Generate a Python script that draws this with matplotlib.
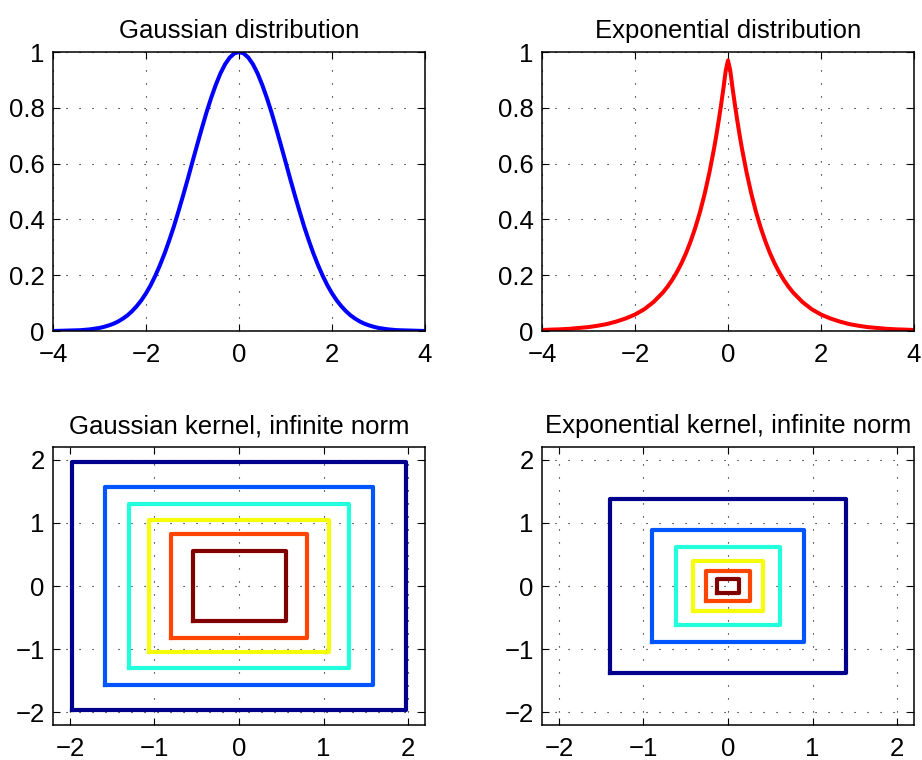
import numpy as np
import matplotlib
matplotlib.use("Agg")
import matplotlib.pyplot as plt

plt.rcParams['font.family'] = ['Liberation Sans', 'DejaVu Sans']
plt.rcParams['axes.unicode_minus'] = True

# Gaussian distribution curve samples
gauss_x = [-4.0, -3.8, -3.6, -3.4, -3.2, -3.0, -2.9, -2.8, -2.7, -2.6, -2.5,
           -2.4, -2.3, -2.2, -2.1, -2.0, -1.9, -1.8, -1.7, -1.6, -1.5, -1.4,
           -1.3, -1.2, -1.1, -1.0, -0.9, -0.8, -0.7, -0.6, -0.5, -0.4, -0.3,
           -0.2, -0.1, 0.0, 0.1, 0.2, 0.3, 0.4, 0.5, 0.6, 0.7, 0.8, 0.9, 1.0,
           1.1, 1.2, 1.3, 1.4, 1.5, 1.6, 1.7, 1.8, 1.9, 2.0, 2.1, 2.2, 2.3,
           2.4, 2.5, 2.6, 2.7, 2.8, 2.9, 3.0, 3.2, 3.4, 3.6, 3.8, 4.0]
gauss_y = [0.000, 0.001, 0.002, 0.003, 0.006, 0.011, 0.015, 0.020, 0.026, 0.034,
           0.044, 0.056, 0.071, 0.089, 0.110, 0.135, 0.164, 0.198, 0.236, 0.278,
           0.325, 0.375, 0.430, 0.487, 0.546, 0.607, 0.667, 0.726, 0.783, 0.835,
           0.882, 0.923, 0.956, 0.980, 0.995, 1.000, 0.995, 0.980, 0.956, 0.923,
           0.882, 0.835, 0.783, 0.726, 0.667, 0.607, 0.546, 0.487, 0.430, 0.375,
           0.325, 0.278, 0.236, 0.198, 0.164, 0.135, 0.110, 0.089, 0.071, 0.056,
           0.044, 0.034, 0.026, 0.020, 0.015, 0.011, 0.006, 0.003, 0.002, 0.001,
           0.000]

# Exponential (Laplace) distribution curve samples
expo_x = [-4.0, -3.8, -3.6, -3.4, -3.2, -3.0, -2.8, -2.6, -2.4, -2.2, -2.0,
          -1.8, -1.6, -1.4, -1.3, -1.2, -1.1, -1.0, -0.9, -0.8, -0.7, -0.6,
          -0.5, -0.4, -0.3, -0.25, -0.2, -0.15, -0.1, -0.05, 0.0, 0.05, 0.1,
          0.15, 0.2, 0.25, 0.3, 0.4, 0.5, 0.6, 0.7, 0.8, 0.9, 1.0, 1.1, 1.2,
          1.3, 1.4, 1.6, 1.8, 2.0, 2.2, 2.4, 2.6, 2.8, 3.0, 3.2, 3.4, 3.6,
          3.8, 4.0]
expo_y = [0.0035, 0.005, 0.006, 0.008, 0.011, 0.014, 0.019, 0.025, 0.034, 0.045,
          0.059, 0.078, 0.104, 0.138, 0.159, 0.183, 0.211, 0.243, 0.280, 0.323,
          0.372, 0.428, 0.493, 0.568, 0.654, 0.702, 0.754, 0.809, 0.868, 0.932,
          0.970, 0.932, 0.868, 0.809, 0.754, 0.702, 0.654, 0.568, 0.493, 0.428,
          0.372, 0.323, 0.280, 0.243, 0.211, 0.183, 0.159, 0.138, 0.104, 0.078,
          0.059, 0.045, 0.034, 0.025, 0.019, 0.014, 0.011, 0.008, 0.006, 0.005,
          0.0035]

# Level-set half-widths (x, y) for the infinite-norm kernels, outer to inner
gauss_half_x = [1.97, 1.58, 1.30, 1.06, 0.81, 0.55]
gauss_half_y = [1.97, 1.57, 1.29, 1.05, 0.82, 0.55]
expo_half_x = [1.39, 0.90, 0.62, 0.41, 0.26, 0.13]
expo_half_y = [1.38, 0.89, 0.61, 0.39, 0.24, 0.11]
level_colors = ['#00008C', '#0055FF', '#22FFDD', '#F5FF0A', '#FF4500', '#800000']

titles = ['Gaussian distribution', 'Exponential distribution',
          'Gaussian kernel, infinite norm', 'Exponential kernel, infinite norm']

fig = plt.figure(figsize=(9.22, 7.6), dpi=100)
W, H = 922, 760
boxes = [(53, 52, 425, 331), (542, 52, 914, 331),
         (53, 447, 425, 725), (542, 447, 914, 725)]
axes = [fig.add_axes([l / W, 1 - b / H, (r - l) / W, (b - t) / H])
        for (l, t, r, b) in boxes]

grid_style = dict(color='black', linewidth=0.8, linestyle=(0, (1, 10.7)))


def style(ax, title):
    ax.set_title(title, fontsize=18.5, pad=10)
    ax.tick_params(direction='in', length=5, width=0.8, labelsize=18.5,
                   top=True, right=True)
    ax.tick_params(axis='x', pad=8.5)
    ax.tick_params(axis='y', pad=6)
    for s in ax.spines.values():
        s.set_linewidth(1.1)
    ax.grid(True, **grid_style)
    ax.set_axisbelow(True)


ax = axes[0]
ax.plot(gauss_x, gauss_y, color='#0000FF', linewidth=2.9, solid_joinstyle='round')
ax.set_xlim(-4, 4)
ax.set_ylim(0, 1)
ax.set_xticks([-4, -2, 0, 2, 4])
ax.set_yticks([0, 0.2, 0.4, 0.6, 0.8, 1])
ax.set_yticklabels(['0', '0.2', '0.4', '0.6', '0.8', '1'])
style(ax, titles[0])

ax = axes[1]
ax.plot(expo_x, expo_y, color='#FF0000', linewidth=2.9, solid_joinstyle='round')
ax.set_xlim(-4, 4)
ax.set_ylim(0, 1)
ax.set_xticks([-4, -2, 0, 2, 4])
ax.set_yticks([0, 0.2, 0.4, 0.6, 0.8, 1])
ax.set_yticklabels(['0', '0.2', '0.4', '0.6', '0.8', '1'])
style(ax, titles[1])


def draw_levels(ax, hx, hy):
    for a, b, c in zip(hx, hy, level_colors):
        ax.plot([-a, a, a, -a, -a], [-b, -b, b, b, -b], color=c,
                linewidth=3.0, solid_joinstyle='round')


for ax, hx, hy, t in [(axes[2], gauss_half_x, gauss_half_y, titles[2]),
                      (axes[3], expo_half_x, expo_half_y, titles[3])]:
    draw_levels(ax, hx, hy)
    ax.set_xlim(-2.2, 2.2)
    ax.set_ylim(-2.2, 2.2)
    ax.set_xticks([-2, -1, 0, 1, 2])
    ax.set_yticks([-2, -1, 0, 1, 2])
    style(ax, t)

fig.savefig('out.png', dpi=100)
